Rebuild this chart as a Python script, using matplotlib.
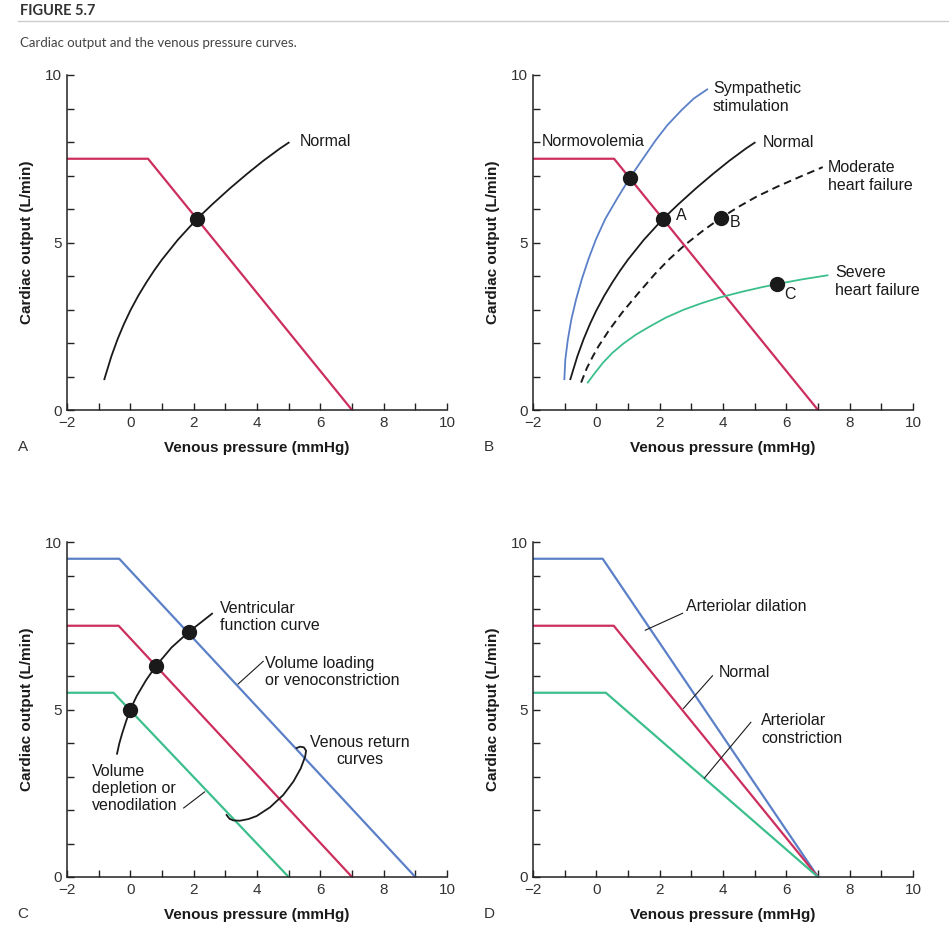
import matplotlib.pyplot as plt
from matplotlib.lines import Line2D

plt.rcParams['font.family'] = ['Liberation Sans', 'DejaVu Sans']

RED = '#cc2e5d'
BLUE = '#5b80c8'
GREEN = '#3cbf8c'
DARK = '#1a1a1a'

# venous return curves (x = venous pressure, y = cardiac output)
vr_normal_x = [-2, 0.56, 7]
vr_normal_y = [7.5, 7.5, 0]

# ventricular function curves
normal_x = [-0.82, -0.6, -0.4, -0.2, 0, 0.25, 0.5, 0.75, 1.0, 1.5, 2.1,
            2.6, 3.15, 3.7, 4.2, 4.73, 5.0]
normal_y = [0.92, 1.60, 2.12, 2.57, 2.97, 3.41, 3.80, 4.16, 4.49, 5.08, 5.70,
            6.15, 6.62, 7.06, 7.44, 7.81, 7.98]
symp_x = [-1.01, -0.98, -0.90, -0.79, -0.64, -0.46, -0.25, -0.01, 0.28, 0.65,
          1.05, 1.47, 1.88, 2.24, 2.70, 3.08, 3.5]
symp_y = [0.92, 1.5, 2.1, 2.7, 3.3, 3.9, 4.5, 5.1, 5.7, 6.3,
          6.92, 7.5, 8.06, 8.5, 8.96, 9.3, 9.57]
moderate_x = [-0.48, -0.3, -0.1, 0.06, 0.4, 0.8, 1.3, 1.85, 2.3, 2.8, 3.35,
              3.94, 4.5, 5.06, 5.7, 6.4, 7.15]
moderate_y = [0.82, 1.25, 1.62, 1.89, 2.38, 2.89, 3.46, 4.06, 4.5, 4.93, 5.34,
              5.74, 6.07, 6.37, 6.66, 6.95, 7.25]
severe_x = [-0.27, -0.05, 0.2, 0.5, 0.85, 1.25, 1.7, 2.2, 2.75, 3.3, 3.9,
            4.6, 5.2, 5.7, 6.5, 7.3]
severe_y = [0.82, 1.1, 1.4, 1.7, 1.98, 2.25, 2.5, 2.76, 2.99, 3.18, 3.36,
            3.53, 3.66, 3.76, 3.9, 4.02]

# equilibrium points
eq_a = (2.1, 5.7)
eq_b_pts_x = [1.05, 2.1, 3.94, 5.69]
eq_b_pts_y = [6.92, 5.7, 5.74, 3.76]
eq_b_labels = ['', 'A', 'B', 'C']

# panel C: venous return shifts with volume
vol_load_x = [-2, -0.35, 9]
vol_load_y = [9.5, 9.5, 0]
vol_norm_x = [-2, -0.37, 7]
vol_norm_y = [7.5, 7.5, 0]
vol_depl_x = [-2, -0.53, 5]
vol_depl_y = [5.5, 5.5, 0]
vfc_x = [-0.42, -0.35, -0.26, -0.13, 0.0, 0.2, 0.5, 0.81, 1.3, 1.84, 2.58]
vfc_y = [3.68, 3.98, 4.28, 4.66, 5.0, 5.4, 5.88, 6.3, 6.85, 7.31, 7.86]
vfc_dots_x = [0.0, 0.81, 1.84]
vfc_dots_y = [5.0, 6.3, 7.31]
bracket_x = [3.04, 3.13, 3.25, 3.46, 3.73, 3.99, 4.41, 4.83, 5.15, 5.38,
             5.52, 5.55, 5.48, 5.36, 5.25]
bracket_y = [1.85, 1.74, 1.69, 1.68, 1.73, 1.82, 2.08, 2.45, 2.85, 3.24,
             3.59, 3.77, 3.87, 3.89, 3.85]

# panel D: arteriolar resistance
dil_x = [-2, 0.2, 7]
dil_y = [9.5, 9.5, 0]
art_norm_x = [-2, 0.55, 7]
art_norm_y = [7.5, 7.5, 0]
con_x = [-2, 0.3, 7]
con_y = [5.5, 5.5, 0]

W, H = 949, 935
fig = plt.figure(figsize=(W / 100, H / 100), dpi=100)


def make_axes(left_px, top_px, letter):
    ax = fig.add_axes([left_px / W, 1 - (top_px + 335) / H, 380 / W, 335 / H])
    ax.set_xlim(-2, 10)
    ax.set_ylim(0, 10)
    ax.spines[['top', 'right']].set_visible(False)
    for s in ['left', 'bottom']:
        ax.spines[s].set_linewidth(1.1)
        ax.spines[s].set_color('#222222')
    ax.set_xticks(range(-2, 11, 2))
    ax.set_xticks(range(-1, 10, 2), minor=True)
    ax.set_yticks([0, 5, 10])
    ax.set_yticks([1, 2, 3, 4, 6, 7, 8, 9], minor=True)
    ax.tick_params(which='both', direction='in', length=5, width=1,
                   color='#222222', labelsize=11, labelcolor='#333333')
    ax.tick_params(axis='x', pad=4)
    ax.tick_params(axis='y', pad=4)
    ax.text(0.5, -0.112, 'Venous pressure (mmHg)', transform=ax.transAxes,
            ha='center', va='center', fontsize=11, fontweight='bold', color=DARK)
    ax.text(-0.105, 0.5, 'Cardiac output (L/min)', transform=ax.transAxes,
            ha='center', va='center', rotation=90, fontsize=11,
            fontweight='bold', color=DARK)
    fig.text((left_px - 44) / W, 1 - (top_px + 372) / H, letter,
             ha='center', va='center', fontsize=11, color='#333333')
    return ax


def label(ax, x, y, s, ha='left'):
    ax.text(x, y, s, ha=ha, va='center', fontsize=11.5, color=DARK,
            linespacing=1.2)


def leader(ax, xs, ys):
    ax.plot(xs, ys, color=DARK, lw=0.8, solid_capstyle='butt')


# header
fig.text(20 / W, 1 - 11 / H, 'FIGURE 5.7', fontsize=10.5, fontweight='bold',
         color='#333333', va='center', family=['Lato', 'DejaVu Sans'])
fig.add_artist(Line2D([18 / W, 1], [1 - 21 / H, 1 - 21 / H],
                      color='#cccccc', lw=1))
fig.text(20 / W, 1 - 43 / H, 'Cardiac output and the venous pressure curves.',
         fontsize=9.5, color='#444444', va='center', family=['Lato', 'DejaVu Sans'])

# panel A
ax = make_axes(67, 75, 'A')
ax.plot(vr_normal_x, vr_normal_y, color=RED, lw=1.6)
ax.plot(normal_x, normal_y, color=DARK, lw=1.3)
ax.plot(*eq_a, 'o', color=DARK, ms=10)
label(ax, 5.34, 8.01, 'Normal')

# panel B
ax = make_axes(533, 75, 'B')
ax.plot(vr_normal_x, vr_normal_y, color=RED, lw=1.6)
ax.plot(symp_x, symp_y, color=BLUE, lw=1.3)
ax.plot(normal_x, normal_y, color=DARK, lw=1.3)
ax.plot(moderate_x, moderate_y, color=DARK, lw=1.4, ls=(0, (4, 2.5)))
ax.plot(severe_x, severe_y, color=GREEN, lw=1.3)
ax.plot(eq_b_pts_x, eq_b_pts_y, 'o', color=DARK, ms=10, ls='none')
for px, py, s, dx, dy in zip(eq_b_pts_x, eq_b_pts_y, eq_b_labels,
                             [0, 0.58, 0.45, 0.44], [0, 0.1, -0.14, -0.3]):
    if s:
        ax.text(px + dx, py + dy, s, ha='center', va='center', fontsize=11.5,
                color=DARK)
label(ax, 3.68, 9.33, 'Sympathetic\nstimulation')
label(ax, -1.72, 8.01, 'Normovolemia')
label(ax, 5.24, 7.98, 'Normal')
label(ax, 7.32, 6.97, 'Moderate\nheart failure')
label(ax, 7.53, 3.83, 'Severe\nheart failure')

# panel C
ax = make_axes(67, 542, 'C')
ax.plot(vol_load_x, vol_load_y, color=BLUE, lw=1.6)
ax.plot(vol_norm_x, vol_norm_y, color=RED, lw=1.6)
ax.plot(vol_depl_x, vol_depl_y, color=GREEN, lw=1.6)
ax.plot(vfc_x, vfc_y, color=DARK, lw=1.3)
ax.plot(vfc_dots_x, vfc_dots_y, 'o', color=DARK, ms=10, ls='none')
ax.plot(bracket_x, bracket_y, color=DARK, lw=1.3)
label(ax, 2.83, 7.76, 'Ventricular\nfunction curve')
label(ax, 4.26, 6.12, 'Volume loading\nor venoconstriction')
leader(ax, [3.39, 4.21], [5.75, 6.45])
label(ax, 7.26, 3.76, 'Venous return\ncurves', ha='center')
label(ax, -1.21, 2.64, 'Volume\ndepletion or\nvenodilation')
leader(ax, [1.67, 2.36], [2.05, 2.55])

# panel D
ax = make_axes(533, 542, 'D')
ax.plot(dil_x, dil_y, color=BLUE, lw=1.6)
ax.plot(art_norm_x, art_norm_y, color=RED, lw=1.6)
ax.plot(con_x, con_y, color=GREEN, lw=1.6)
label(ax, 2.82, 8.08, 'Arteriolar dilation')
leader(ax, [1.53, 2.74], [7.36, 7.88])
label(ax, 3.87, 6.09, 'Normal')
leader(ax, [2.74, 3.68], [5.02, 6.02])
label(ax, 5.21, 4.40, 'Arteriolar\nconstriction')
leader(ax, [3.4, 4.89], [2.94, 4.63])

fig.savefig('out.png', dpi=100)
